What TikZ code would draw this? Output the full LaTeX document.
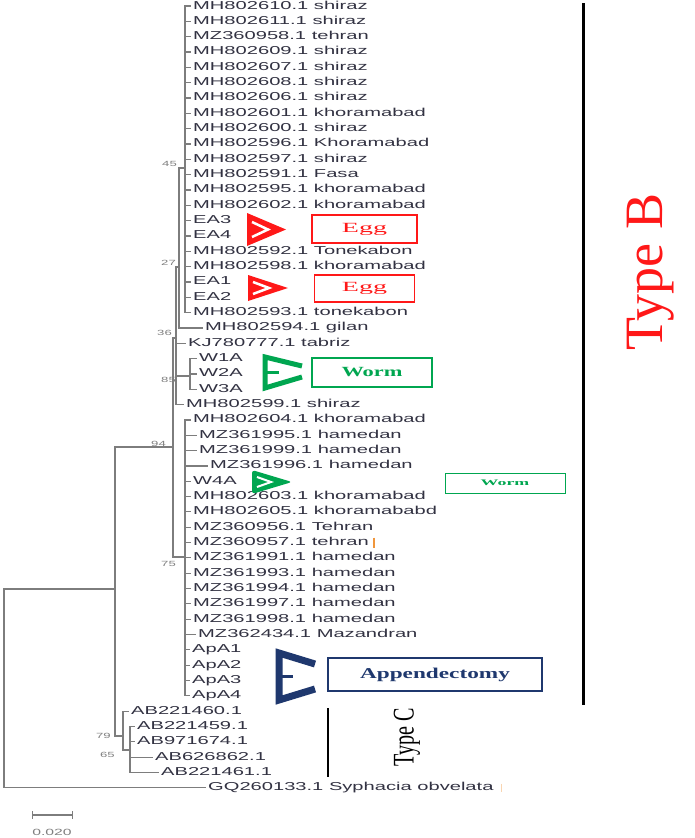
\documentclass[tikz,border=0pt]{standalone}
\usepackage{fontspec}
\setmainfont{Liberation Serif}
\setsansfont[FakeStretch=1.75]{Liberation Sans}
\usepackage{xcolor}
\usepackage{graphicx}
\definecolor{tipgray}{RGB}{50,50,66}
\definecolor{branchgray}{RGB}{125,125,125}
\definecolor{eggred}{RGB}{255,24,24}
\definecolor{wormgreen}{RGB}{0,166,80}
\definecolor{appnavy}{RGB}{31,56,110}
\definecolor{markorange}{RGB}{240,150,60}

\tikzset{
  branch/.style={draw=branchgray, line width=1.2pt},
  tip/.style={anchor=west, inner xsep=2pt, inner ysep=0pt, text height=8pt, text depth=2pt,
    text=tipgray, font=\sffamily\fontsize{11.5}{12}\selectfont},
  boot/.style={anchor=east, inner sep=0pt, text=gray, font=\sffamily\fontsize{7.5}{8}\selectfont},
  tagbox/.style={draw, line width=1.3pt, inner sep=0pt},
}

\begin{document}
\begin{tikzpicture}[x=1pt,y=-1pt]
\useasboundingbox (0,0) rectangle (694,838);
\fill[white] (0,0) rectangle (694,838);

\coordinate (n0)   at (4,688);
\coordinate (n115) at (115,589);
\coordinate (n94)  at (173,447);
\coordinate (n36)  at (176,338);
\coordinate (n27)  at (179,267);
\coordinate (n45)  at (185,168);
\coordinate (n85)  at (190,376);
\coordinate (n75)  at (185,557);
\coordinate (n79)  at (123,736);
\coordinate (n65)  at (130,750);

\draw[branch] (n0) |- (n115);
\draw[branch] (n115) |- (n94);
\draw[branch] (n115) |- (n79);
\draw[branch] (n94) |- (n36);
\draw[branch] (n94) |- (n75);
\draw[branch] (n36) |- (n27);
\draw[branch] (n36) |- (n85);
\draw[branch] (n27) |- (n45);
\draw[branch] (n79) |- (n65);

\foreach \i/\xe/\p/\lab in {
  1/191/n45/MH802610.1 shiraz, 2/191/n45/MH802611.1 shiraz, 3/191/n45/MZ360958.1 tehran,
  4/191/n45/MH802609.1 shiraz, 5/191/n45/MH802607.1 shiraz, 6/191/n45/MH802608.1 shiraz,
  7/191/n45/MH802606.1 shiraz, 8/191/n45/MH802601.1 khoramabad, 9/191/n45/MH802600.1 shiraz,
  10/191/n45/MH802596.1 Khoramabad, 11/191/n45/MH802597.1 shiraz, 12/191/n45/MH802591.1 Fasa,
  13/191/n45/MH802595.1 khoramabad, 14/191/n45/MH802602.1 khoramabad, 15/191/n45/EA3,
  16/191/n45/EA4, 17/191/n45/MH802592.1 Tonekabon, 18/191/n45/MH802598.1 khoramabad,
  19/191/n45/EA1, 20/191/n45/EA2, 21/191/n45/MH802593.1 tonekabon,
  22/203/n27/MH802594.1 gilan, 23/186/n36/KJ780777.1 tabriz,
  24/197/n85/W1A, 25/197/n85/W2A, 26/197/n85/W3A, 27/184/n36/MH802599.1 shiraz,
  28/191/n75/MH802604.1 khoramabad, 29/197/n75/MZ361995.1 hamedan, 30/197/n75/MZ361999.1 hamedan,
  31/208/n75/MZ361996.1 hamedan, 32/191/n75/W4A, 33/191/n75/MH802603.1 khoramabad,
  34/191/n75/MH802605.1 khoramababd, 35/191/n75/MZ360956.1 Tehran, 36/191/n75/MZ360957.1 tehran,
  37/191/n75/MZ361991.1 hamedan, 38/191/n75/MZ361993.1 hamedan, 39/191/n75/MZ361994.1 hamedan,
  40/191/n75/MZ361997.1 hamedan, 41/191/n75/MZ361998.1 hamedan, 42/196/n75/MZ362434.1 Mazandran,
  43/190/n75/ApA1, 44/190/n75/ApA2, 45/190/n75/ApA3, 46/190/n75/ApA4,
  47/129/n79/AB221460.1, 48/135/n65/AB221459.1, 49/135/n65/AB971674.1,
  50/153/n65/AB626862.1, 51/159/n65/AB221461.1, 52/206/n0/GQ260133.1 Syphacia obvelata}
{
  \node[tip] (t\i) at (\xe,{6+(\i-1)*15.33}) {\lab};
  \draw[branch] (\p) |- (t\i.west);
}

\node[boot] (b45) at (177,164) {45};
\node[boot] (b27) at (176,263) {27};
\node[boot] (b36) at (172,333) {36};
\node[boot] (b85) at (176,380) {85};
\node[boot] (b94) at (166,444) {94};
\node[boot] (b75) at (176,564) {75};
\node[boot] (b79) at (111,736) {79};
\node[boot] (b65) at (115,755) {65};

\coordinate (sbL) at (32,815);
\coordinate (sbR) at (73,815);
\draw[branch, |-|] (sbL) -- (sbR);
\node[boot, anchor=center, font=\sffamily\fontsize{9}{9}\selectfont] (sb) at (52,832) {0.020};

\draw[markorange, line width=1.2pt] ([xshift=3pt,yshift=5pt]t36.east) -- ++(0,10);
\draw[markorange!40, line width=1pt] ([xshift=6pt,yshift=4pt]t52.east) -- ++(0,8);

\begin{scope}[line join=miter]
  \fill[eggred] (247,213) -- (247,246) -- (286,229.5) -- cycle;
  \draw[white, line width=2.5pt] (252,222) -- (268,229.5) -- (252,237);
  \fill[eggred] (248,275) -- (248,301) -- (288,288) -- cycle;
  \draw[white, line width=2.5pt] (253,282) -- (269,288) -- (253,294);
  \draw[wormgreen, line width=5pt] (302,366) -- (265,357) -- (265,388) -- (302,377);
  \draw[wormgreen, line width=3pt] (265,372) -- (279,372);
  \fill[wormgreen, rounded corners=3pt] (252,470) -- (252,494) -- (292,482) -- cycle;
  \draw[white, line width=2pt] (257,477) -- (271,482) -- (257,487);
  \draw[appnavy, line width=7pt] (315,664) -- (279,653) -- (279,700) -- (315,689);
  \draw[appnavy, line width=3pt] (279,676) -- (293,676);
\end{scope}

\node[tagbox, draw=eggred, minimum width=105pt, minimum height=28pt, text=eggred,
  font=\fontsize{14}{14}\selectfont] (egg1) at (364.5,229) {\scalebox{2}[1]{Egg}};
\node[tagbox, draw=eggred, minimum width=100pt, minimum height=27pt, text=eggred,
  font=\fontsize{14}{14}\selectfont] (egg2) at (364.5,288.5) {\scalebox{2}[1]{Egg}};
\node[tagbox, draw=wormgreen, minimum width=120pt, minimum height=29pt, text=wormgreen,
  font=\fontsize{14}{14}\selectfont\bfseries] (worm1) at (372,372.5) {\scalebox{1.6}[1]{Worm}};
\node[tagbox, draw=wormgreen, line width=1pt, minimum width=120pt, minimum height=20pt, text=wormgreen,
  font=\fontsize{8.5}{9}\selectfont\bfseries] (worm2) at (505,483) {\scalebox{2.1}[1]{Worm}};
\node[tagbox, draw=appnavy, minimum width=214pt, minimum height=33pt, text=appnavy,
  font=\fontsize{15}{15}\selectfont\bfseries] (app) at (435,674.5) {\scalebox{1.55}[1]{Appendectomy}};

\coordinate (typeBtop) at (583,3);
\coordinate (typeBbot) at (583,705);
\draw[line width=3pt] (typeBtop) -- (typeBbot);
\node[rotate=90, text=eggred, font=\fontsize{54}{54}\selectfont] (typeB) at (651,272) {Type B};

\coordinate (typeCtop) at (328,708);
\coordinate (typeCbot) at (328,777);
\draw[line width=2.5pt] (typeCtop) -- (typeCbot);
\node[rotate=90, font=\fontsize{30}{30}\selectfont] (typeC) at (407,737) {\scalebox{0.67}[1]{Type C}};
\end{tikzpicture}
\end{document}
